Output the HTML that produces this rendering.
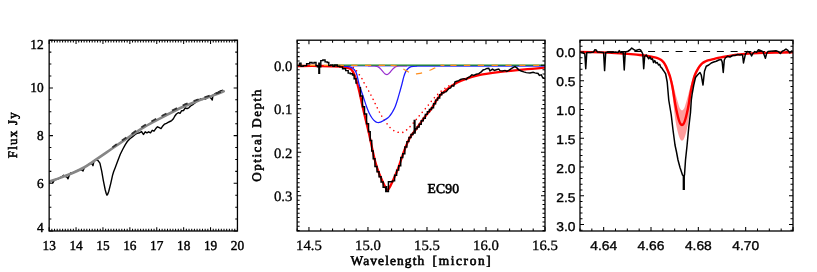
<!DOCTYPE html>
<html><head><meta charset="utf-8"><title>EC90 optical depth</title>
<style>
html,body{margin:0;padding:0;background:#fff;}
svg{display:block;will-change:transform;}
text{font-family:"Liberation Serif",serif;fill:#000;text-rendering:geometricPrecision;}
text.sn{font-family:"Liberation Sans",sans-serif;}
</style></head>
<body>
<svg width="817" height="272" viewBox="0 0 817 272">
<defs>
<clipPath id="c1"><rect x="49.15" y="40.2" width="188.3" height="190.8"/></clipPath>
<clipPath id="c2"><rect x="297.15" y="40.2" width="247.85" height="190.8"/></clipPath>
<clipPath id="c3"><rect x="580" y="40.2" width="213" height="190.8"/></clipPath>
</defs>
<rect width="817" height="272" fill="#fff"/>
<g clip-path="url(#c1)">
<path d="M49.5 181.83 L52 181.02 L53 182.81 L54.5 179.8 L57 179.3 L60 177.84 L62.5 176.27 L63.5 175.28 L65 176.43 L67 177.07 L68 178.78 L69.5 174.76 L71 172.73 L73 172.87 L76 171.32 L79 169.77 L82 170.08 L83 171 L84.5 167.48 L87 165.54 L90 163.48 L92 163.87 L93 165.7 L94 160.74 L96 160 L98.1 160.6 L99.9 163.2 L101.7 171.2 L103.4 180.9 L105.2 189.75 L106.3 193.8 L107 195.2 L107.8 194 L108.7 191.5 L110.7 183.6 L112.7 174.7 L113.7 171.5 L115.1 167.9 L117.6 161.3 L120.3 154.3 L122.9 149 L125.3 144.6 L127.3 141.5 L129.9 138.7 L132.6 136.6 L135.2 134.5 L137 133.4 L139.7 132.7 L141.6 131.6 L143.4 134.5 L145.2 131.8 L146.9 132.9 L148.7 131.8 L150.5 132.8 L152.2 130.3 L154 131.2 L155.8 128.6 L157.5 126.8 L159.3 127.7 L161 128.6 L162.8 125.9 L164.6 124.1 L166.4 123.3 L168.1 122.4 L169.9 121.5 L171.7 120.6 L173.4 118.8 L174.7 116.2 L176.4 114 L178.2 112.7 L180 113.4 L181.7 110.7 L183.5 110.5 L185.3 107.8 L187 108.7 L188.8 107.8 L190.6 106 L193.2 104.3 L195.9 102.1 L196.7 99.9 L198.5 100.7 L200.3 99 L202 99.5 L203.8 98.6 L205.6 99 L207.3 97.6 L209.1 96.8 L210.9 98.1 L212.3 100 L213 95 L215.3 93.7 L217.9 92.3 L220.6 91 L223.2 90.3" stroke="#000" stroke-width="1.4" fill="none" stroke-linejoin="round"/>
<path d="M49.3 181.6 C51.08 180.98 56.22 179.28 60 177.9 C63.78 176.52 68 175.03 72 173.3 C76 171.57 80.67 169.33 84 167.5 C87.33 165.67 89.33 164.07 92 162.3 C94.67 160.53 97 158.95 100 156.9 C103 154.85 106.67 152.3 110 150 C113.33 147.7 116.5 145.48 120 143.1 C123.5 140.72 127.33 138.15 131 135.7 C134.67 133.25 138.17 130.75 142 128.4 C145.83 126.05 150 123.78 154 121.6 C158 119.42 161.33 117.68 166 115.3 C170.67 112.92 176.67 109.72 182 107.3 C187.33 104.88 194 102.37 198 100.8 C202 99.23 203.2 98.88 206 97.9 C208.8 96.92 211.85 96 214.8 94.9 C217.75 93.8 222.22 91.9 223.7 91.3" stroke="#868686" stroke-width="2.6" fill="none" stroke-linecap="round"/>
<path d="M110 149.07 C111.67 147.88 116.5 144.37 120 141.91 C123.5 139.45 127.33 136.82 131 134.31 C134.67 131.81 138.17 129.27 142 126.89 C145.83 124.5 150 122.21 154 120.01 C158 117.82 161.33 116.07 166 113.7 C170.67 111.33 176.67 108.16 182 105.79 C187.33 103.42 194 101 198 99.49 C202 97.99 203.2 97.67 206 96.75 C208.8 95.84 211.85 94.97 214.8 94 C217.75 93.03 222.22 91.44 223.7 90.93" stroke="#333" stroke-width="1.8" fill="none" stroke-dasharray="5.4 6.3" stroke-dashoffset="-3"/>
</g>
<path d="M49.15 231 v-2.2 M49.15 40.2 v2.2 M51.84 231 v-2.2 M51.84 40.2 v2.2 M54.53 231 v-2.2 M54.53 40.2 v2.2 M57.22 231 v-2.2 M57.22 40.2 v2.2 M59.91 231 v-2.2 M59.91 40.2 v2.2 M62.6 231 v-2.2 M62.6 40.2 v2.2 M65.29 231 v-2.2 M65.29 40.2 v2.2 M67.98 231 v-2.2 M67.98 40.2 v2.2 M70.67 231 v-2.2 M70.67 40.2 v2.2 M73.36 231 v-2.2 M73.36 40.2 v2.2 M76.05 231 v-2.2 M76.05 40.2 v2.2 M78.74 231 v-2.2 M78.74 40.2 v2.2 M81.43 231 v-2.2 M81.43 40.2 v2.2 M84.12 231 v-2.2 M84.12 40.2 v2.2 M86.81 231 v-2.2 M86.81 40.2 v2.2 M89.5 231 v-2.2 M89.5 40.2 v2.2 M92.19 231 v-2.2 M92.19 40.2 v2.2 M94.88 231 v-2.2 M94.88 40.2 v2.2 M97.57 231 v-2.2 M97.57 40.2 v2.2 M100.26 231 v-2.2 M100.26 40.2 v2.2 M102.95 231 v-2.2 M102.95 40.2 v2.2 M105.64 231 v-2.2 M105.64 40.2 v2.2 M108.33 231 v-2.2 M108.33 40.2 v2.2 M111.02 231 v-2.2 M111.02 40.2 v2.2 M113.71 231 v-2.2 M113.71 40.2 v2.2 M116.4 231 v-2.2 M116.4 40.2 v2.2 M119.09 231 v-2.2 M119.09 40.2 v2.2 M121.78 231 v-2.2 M121.78 40.2 v2.2 M124.47 231 v-2.2 M124.47 40.2 v2.2 M127.16 231 v-2.2 M127.16 40.2 v2.2 M129.85 231 v-2.2 M129.85 40.2 v2.2 M132.54 231 v-2.2 M132.54 40.2 v2.2 M135.23 231 v-2.2 M135.23 40.2 v2.2 M137.92 231 v-2.2 M137.92 40.2 v2.2 M140.61 231 v-2.2 M140.61 40.2 v2.2 M143.3 231 v-2.2 M143.3 40.2 v2.2 M145.99 231 v-2.2 M145.99 40.2 v2.2 M148.68 231 v-2.2 M148.68 40.2 v2.2 M151.37 231 v-2.2 M151.37 40.2 v2.2 M154.06 231 v-2.2 M154.06 40.2 v2.2 M156.75 231 v-2.2 M156.75 40.2 v2.2 M159.44 231 v-2.2 M159.44 40.2 v2.2 M162.13 231 v-2.2 M162.13 40.2 v2.2 M164.82 231 v-2.2 M164.82 40.2 v2.2 M167.51 231 v-2.2 M167.51 40.2 v2.2 M170.2 231 v-2.2 M170.2 40.2 v2.2 M172.89 231 v-2.2 M172.89 40.2 v2.2 M175.58 231 v-2.2 M175.58 40.2 v2.2 M178.27 231 v-2.2 M178.27 40.2 v2.2 M180.96 231 v-2.2 M180.96 40.2 v2.2 M183.65 231 v-2.2 M183.65 40.2 v2.2 M186.34 231 v-2.2 M186.34 40.2 v2.2 M189.03 231 v-2.2 M189.03 40.2 v2.2 M191.72 231 v-2.2 M191.72 40.2 v2.2 M194.41 231 v-2.2 M194.41 40.2 v2.2 M197.1 231 v-2.2 M197.1 40.2 v2.2 M199.79 231 v-2.2 M199.79 40.2 v2.2 M202.48 231 v-2.2 M202.48 40.2 v2.2 M205.17 231 v-2.2 M205.17 40.2 v2.2 M207.86 231 v-2.2 M207.86 40.2 v2.2 M210.55 231 v-2.2 M210.55 40.2 v2.2 M213.24 231 v-2.2 M213.24 40.2 v2.2 M215.93 231 v-2.2 M215.93 40.2 v2.2 M218.62 231 v-2.2 M218.62 40.2 v2.2 M221.31 231 v-2.2 M221.31 40.2 v2.2 M224 231 v-2.2 M224 40.2 v2.2 M226.69 231 v-2.2 M226.69 40.2 v2.2 M229.38 231 v-2.2 M229.38 40.2 v2.2 M232.07 231 v-2.2 M232.07 40.2 v2.2 M234.76 231 v-2.2 M234.76 40.2 v2.2 M237.45 231 v-2.2 M237.45 40.2 v2.2 M49.15 231 v-3.8 M49.15 40.2 v3.8 M76.05 231 v-3.8 M76.05 40.2 v3.8 M102.95 231 v-3.8 M102.95 40.2 v3.8 M129.85 231 v-3.8 M129.85 40.2 v3.8 M156.75 231 v-3.8 M156.75 40.2 v3.8 M183.65 231 v-3.8 M183.65 40.2 v3.8 M210.55 231 v-3.8 M210.55 40.2 v3.8 M237.45 231 v-3.8 M237.45 40.2 v3.8 M49.15 231 h2.2 M237.45 231 h-2.2 M49.15 219.07 h2.2 M237.45 219.07 h-2.2 M49.15 207.15 h2.2 M237.45 207.15 h-2.2 M49.15 195.23 h2.2 M237.45 195.23 h-2.2 M49.15 183.3 h2.2 M237.45 183.3 h-2.2 M49.15 171.38 h2.2 M237.45 171.38 h-2.2 M49.15 159.45 h2.2 M237.45 159.45 h-2.2 M49.15 147.53 h2.2 M237.45 147.53 h-2.2 M49.15 135.6 h2.2 M237.45 135.6 h-2.2 M49.15 123.68 h2.2 M237.45 123.68 h-2.2 M49.15 111.75 h2.2 M237.45 111.75 h-2.2 M49.15 99.83 h2.2 M237.45 99.83 h-2.2 M49.15 87.9 h2.2 M237.45 87.9 h-2.2 M49.15 75.98 h2.2 M237.45 75.98 h-2.2 M49.15 64.05 h2.2 M237.45 64.05 h-2.2 M49.15 52.12 h2.2 M237.45 52.12 h-2.2 M49.15 40.2 h2.2 M237.45 40.2 h-2.2 M49.15 231 h3.8 M237.45 231 h-3.8 M49.15 183.3 h3.8 M237.45 183.3 h-3.8 M49.15 135.6 h3.8 M237.45 135.6 h-3.8 M49.15 87.9 h3.8 M237.45 87.9 h-3.8 M49.15 40.2 h3.8 M237.45 40.2 h-3.8" stroke="#000" stroke-width="1.05" fill="none"/>
<rect x="49.15" y="40.2" width="188.3" height="190.8" fill="none" stroke="#000" stroke-width="1.3"/>
<text transform="translate(49.15 249.6) scale(0.98 1)" text-anchor="middle" font-size="13.6" font-weight="normal" stroke="#000" stroke-width="0.42">13</text>
<text transform="translate(76.05 249.6) scale(0.98 1)" text-anchor="middle" font-size="13.6" font-weight="normal" stroke="#000" stroke-width="0.42">14</text>
<text transform="translate(102.95 249.6) scale(0.98 1)" text-anchor="middle" font-size="13.6" font-weight="normal" stroke="#000" stroke-width="0.42">15</text>
<text transform="translate(129.85 249.6) scale(0.98 1)" text-anchor="middle" font-size="13.6" font-weight="normal" stroke="#000" stroke-width="0.42">16</text>
<text transform="translate(156.75 249.6) scale(0.98 1)" text-anchor="middle" font-size="13.6" font-weight="normal" stroke="#000" stroke-width="0.42">17</text>
<text transform="translate(183.65 249.6) scale(0.98 1)" text-anchor="middle" font-size="13.6" font-weight="normal" stroke="#000" stroke-width="0.42">18</text>
<text transform="translate(210.55 249.6) scale(0.98 1)" text-anchor="middle" font-size="13.6" font-weight="normal" stroke="#000" stroke-width="0.42">19</text>
<text transform="translate(237.45 249.6) scale(0.98 1)" text-anchor="middle" font-size="13.6" font-weight="normal" stroke="#000" stroke-width="0.42">20</text>
<text transform="translate(43.65 48.5) scale(0.98 1)" text-anchor="end" font-size="13.6" font-weight="normal" stroke="#000" stroke-width="0.42">12</text>
<text transform="translate(43.65 92.4) scale(0.98 1)" text-anchor="end" font-size="13.6" font-weight="normal" stroke="#000" stroke-width="0.42">10</text>
<text transform="translate(43.65 140.1) scale(0.98 1)" text-anchor="end" font-size="13.6" font-weight="normal" stroke="#000" stroke-width="0.42">8</text>
<text transform="translate(43.65 187.8) scale(0.98 1)" text-anchor="end" font-size="13.6" font-weight="normal" stroke="#000" stroke-width="0.42">6</text>
<text transform="translate(43.65 231.5) scale(0.98 1)" text-anchor="end" font-size="13.6" font-weight="normal" stroke="#000" stroke-width="0.42">4</text>
<text transform="translate(17.3 134.6) rotate(-90) scale(1 1)" text-anchor="middle" font-size="13" font-weight="normal" stroke="#000" stroke-width="0.6" letter-spacing="1.25">Flux Jy</text>
<g clip-path="url(#c2)">
<path d="M344 65.9 H545" stroke="#1a1aff" stroke-width="0.9" fill="none"/>
<path d="M344 66 C345 66.1 348.33 66.27 350 66.6 C351.67 66.93 352.83 67.18 354 68 C355.17 68.82 355.93 70.12 357 71.5 C358.07 72.88 359.42 74.77 360.4 76.25 C361.38 77.73 362.13 79.01 362.9 80.4 C363.67 81.79 364.23 83.21 365 84.6 C365.77 85.99 366.73 87.39 367.5 88.75 C368.27 90.11 368.87 91.39 369.6 92.75 C370.33 94.11 371.17 95.51 371.9 96.9 C372.63 98.29 373.3 99.67 374 101.1 C374.7 102.53 375.37 104.03 376.1 105.5 C376.83 106.97 377.67 108.48 378.4 109.9 C379.13 111.32 379.77 112.68 380.5 114 C381.23 115.32 382 116.63 382.75 117.8 C383.5 118.97 383.79 119.38 385 121 C386.21 122.62 388.33 125.79 390 127.5 C391.67 129.21 393.33 130.42 395 131.25 C396.67 132.08 398.47 132.39 400 132.5 C401.53 132.61 402.9 132.53 404.2 131.9 C405.5 131.27 406.62 129.8 407.8 128.7 C408.98 127.6 410.17 126.5 411.3 125.3 C412.43 124.1 413.52 122.78 414.6 121.5 C415.68 120.22 416.78 118.83 417.8 117.6 C418.82 116.37 419.63 115.37 420.7 114.1 C421.77 112.83 422.98 111.43 424.2 110 C425.42 108.57 426.7 107.08 428 105.5 C429.3 103.92 430.67 102.08 432 100.5 C433.33 98.92 434.67 97.38 436 96 C437.33 94.62 438.67 93.37 440 92.2 C441.33 91.03 442.67 89.98 444 89 C445.33 88.02 446.67 87.1 448 86.3 C449.33 85.5 451.33 84.55 452 84.2" stroke="#f00" stroke-width="1.6" fill="none" stroke-linecap="round" stroke-dasharray="0.01 4.7"/>
<path d="M297.5 66 C301.25 66 312.92 65.92 320 66 C327.08 66.08 335.67 66.25 340 66.5 C344.33 66.75 344.17 67.05 346 67.5 C347.83 67.95 349.58 67.95 351 69.2 C352.42 70.45 353.5 72.78 354.5 75 C355.5 77.22 356.17 79.58 357 82.5 C357.83 85.42 358.63 88.75 359.5 92.5 C360.37 96.25 361.28 100.92 362.2 105 C363.12 109.08 363.91 112.42 365 117 C366.09 121.58 367.53 127.17 368.75 132.5 C369.97 137.83 371.23 144.17 372.3 149 C373.38 153.83 374.12 157.58 375.2 161.5 C376.27 165.42 377.53 169.21 378.75 172.5 C379.97 175.79 381.32 178.67 382.5 181.25 C383.68 183.83 384.95 186.54 385.8 188 C386.65 189.46 386.97 190.08 387.6 190 C388.23 189.92 388.58 189.38 389.6 187.5 C390.62 185.62 392.43 181.67 393.75 178.75 C395.07 175.83 396.32 173.04 397.5 170 C398.68 166.96 399.67 163.75 400.8 160.5 C401.93 157.25 403.07 153.75 404.3 150.5 C405.53 147.25 406.98 143.58 408.2 141 C409.42 138.42 410.2 137.08 411.6 135 C413 132.92 414.47 131.42 416.6 128.5 C418.73 125.58 421.92 120.83 424.4 117.5 C426.88 114.17 429.57 111.25 431.5 108.5 C433.43 105.75 434.5 103.28 436 101 C437.5 98.72 439.17 96.33 440.5 94.8 C441.83 93.27 442.62 92.95 444 91.8 C445.38 90.65 446.92 89.23 448.75 87.9 C450.58 86.57 452.92 85 455 83.8 C457.08 82.6 459.17 81.62 461.25 80.7 C463.33 79.78 465.42 79.02 467.5 78.3 C469.58 77.58 471.67 76.97 473.75 76.4 C475.83 75.83 477.92 75.33 480 74.9 C482.08 74.47 484.17 74.13 486.25 73.8 C488.33 73.47 489.79 73.25 492.5 72.9 C495.21 72.55 498.75 72.12 502.5 71.7 C506.25 71.28 510.83 70.82 515 70.4 C519.17 69.98 523.33 69.58 527.5 69.2 C531.67 68.82 537.08 68.37 540 68.1 C542.92 67.83 544.17 67.68 545 67.6" stroke="#f00" stroke-width="2.3" fill="none" stroke-linejoin="round"/>
<path d="M344 66.3 C344.5 66.33 345.83 66.33 347 66.5 C348.17 66.67 349.83 66.83 351 67.3 C352.17 67.77 353.08 68.27 354 69.3 C354.92 70.33 355.67 71.05 356.5 73.5 C357.33 75.95 358.17 81 359 84 C359.83 87 360.67 89 361.5 91.5 C362.33 94 363.17 96.5 364 99 C364.83 101.5 365.67 104.21 366.5 106.5 C367.33 108.79 368.08 110.83 369 112.75 C369.92 114.67 371 116.58 372 118 C373 119.42 374.08 120.55 375 121.3 C375.92 122.05 376.58 122.35 377.5 122.5 C378.42 122.65 379.46 122.53 380.5 122.2 C381.54 121.87 382.5 121.24 383.75 120.5 C385 119.76 386.92 118.62 388 117.75 C389.08 116.88 389.46 116.29 390.25 115.25 C391.04 114.21 391.92 112.96 392.75 111.5 C393.58 110.04 394.42 108.58 395.25 106.5 C396.08 104.42 396.92 101.71 397.75 99 C398.58 96.29 399.52 92.83 400.25 90.25 C400.98 87.67 401.52 85.72 402.1 83.5 C402.68 81.28 403.17 78.83 403.75 76.9 C404.33 74.97 404.88 73.3 405.6 71.9 C406.33 70.5 407.16 69.37 408.1 68.5 C409.04 67.63 409.89 67.1 411.25 66.7 C412.61 66.3 413.12 66.23 416.25 66.1 C419.38 65.97 408.54 65.93 430 65.9 C451.46 65.87 525.83 65.9 545 65.9" stroke="#1a1aff" stroke-width="1.25" fill="none"/>
<path d="M368 65.8 L368.65 65.8 L369.3 65.8 L369.95 65.8 L370.6 65.81 L371.25 65.81 L371.9 65.82 L372.55 65.84 L373.2 65.86 L373.85 65.9 L374.5 65.95 L375.15 66.03 L375.8 66.14 L376.45 66.29 L377.1 66.5 L377.75 66.77 L378.4 67.12 L379.05 67.55 L379.7 68.07 L380.35 68.67 L381 69.36 L381.65 70.11 L382.3 70.89 L382.95 71.69 L383.6 72.45 L384.25 73.15 L384.9 73.73 L385.55 74.17 L386.2 74.43 L386.85 74.5 L387.5 74.37 L388.15 74.05 L388.8 73.57 L389.45 72.94 L390.1 72.22 L390.75 71.44 L391.4 70.65 L392.05 69.87 L392.7 69.14 L393.35 68.48 L394 67.9 L394.65 67.41 L395.3 67.01 L395.95 66.68 L396.6 66.43 L397.25 66.24 L397.9 66.1 L398.55 66 L399.2 65.93 L399.85 65.88 L400.5 65.85 L401.15 65.83 L401.8 65.82 L402.45 65.81 L403.1 65.81 L403.75 65.8 L404.4 65.8 L405.05 65.8 L405.7 65.8 L406.35 65.8 L407 65.8" stroke="#9a30d0" stroke-width="1.25" fill="none"/>
<path d="M332 65.2 H545" stroke="#1e8c1e" stroke-width="1.2" fill="none"/>
<path d="M297.15 65.4 H385" stroke="#ff8c1a" stroke-width="1.25" fill="none" stroke-dasharray="6.2 7.55" stroke-dashoffset="0.9"/>
<path d="M385 65.4 C386.17 65.4 389.71 65.23 392 65.4 C394.29 65.57 397.08 65.97 398.75 66.4 C400.42 66.83 400.96 67.4 402 68 C403.04 68.6 403.57 69.17 405 70 C406.43 70.83 409.1 72.37 410.6 73 C412.1 73.63 412.77 73.7 414 73.8 C415.23 73.9 416.27 73.86 418 73.6 C419.73 73.34 422.19 72.89 424.4 72.25 C426.61 71.61 429.17 70.64 431.25 69.75 C433.33 68.86 435.44 67.54 436.9 66.9 C438.36 66.26 438.86 66.13 440 65.9 C441.14 65.67 442.08 65.58 443.75 65.5 C445.42 65.42 433.12 65.42 450 65.4 C466.88 65.38 529.17 65.4 545 65.4" stroke="#ff8c1a" stroke-width="1.25" fill="none" stroke-dasharray="6.2 7.55" stroke-dashoffset="8.2"/>
<path d="M297.5 65.6 L298 65.6 L298 65.6 L299.45 65.6 L299.45 63.1 L301 63.1 L301 66.25 L303.18 66.25 L303.18 65.6 L306.62 65.6 L306.62 63.75 L309.75 63.75 L309.75 62.5 L311.95 62.5 L311.95 63.1 L314.15 63.1 L314.15 62.5 L316 62.5 L316 65.6 L317.5 65.6 L317.5 66.9 L318.4 66.9 L320 66.9 L320.8 66.9 L320.8 60.6 L322.85 60.6 L322.85 60 L325.05 60 L325.05 61.9 L327.25 61.9 L327.25 62.5 L328.8 62.5 L328.8 65.6 L330.68 65.6 L330.68 65 L332.88 65 L332.88 66.25 L334.75 66.25 L334.75 65 L337.25 65 L337.25 66.25 L339.75 66.25 L339.75 66.9 L342.55 66.9 L342.55 68.75 L345.68 68.75 L345.68 70.6 L348.18 70.6 L348.18 73.1 L350.35 73.1 L350.35 73.75 L352.55 73.75 L352.55 75 L354.12 75 L354.12 78.75 L356 78.75 L356 83.1 L357.25 83.1" stroke="#000" stroke-width="1.4" fill="none" stroke-linejoin="miter"/>
<path d="M359.4 87.68 L360.42 87.68 L360.42 96.06 L362.48 96.06 L362.48 106.65 L364.52 106.65 L364.52 114.05 L366.58 114.05 L366.58 123.7 L368.54 123.7 L368.54 131.76 L370.22 131.76 L370.22 140.5 L371.71 140.5 L371.71 150.96 L373.21 150.96 L373.21 158.67 L374.95 158.67 L374.95 166.45 L376.98 166.45 L376.98 171.82 L379.03 171.82 L379.03 176.65 L381.08 176.65 L381.08 182.09 L383.13 182.09 L383.13 187.25 L385.78 187.25 L385.78 191.6 L388.43 191.6 L388.43 181.8 L390.48 181.8 L390.48 181.8 L392.53 181.8 L392.53 180.88 L394.58 180.88 L394.58 175.32 L396.63 175.32 L396.63 170.1 L398.68 170.1 L398.68 165.67 L400.73 165.67 L400.73 157.55 L402.78 157.55 L402.78 153.65 L404.83 153.65 L404.83 146.95 L406.88 146.95 L406.88 141.61 L408.93 141.61 L408.93 137.52 L410.98 137.52 L410.98 134.41 L413.03 134.41 L413.03 132.96 L415.08 132.96 L415.08 128.77 L417.13 128.77 L417.13 126.93 L419.18 126.93 L419.18 124.18 L421.23 124.18 L421.23 120.65 L423.28 120.65 L423.28 118.18 L425.33 118.18 L425.33 114.36 L427.38 114.36 L427.38 111.75 L429.43 111.75 L429.43 109.51 L431.48 109.51 L431.48 107.77 L433.53 107.77 L433.53 103.74 L435.58 103.74 L435.58 100.14 L437.63 100.14 L437.63 97.97 L439.68 97.97 L439.68 94.83 L441.73 94.83 L441.73 92.65 L443.78 92.65 L443.78 92.1 L444.8 92.1 L446.25 91.61 L448.75 88.57 L450.6 88.01 L451.9 85.54 L453.75 86.18 L455 81.81 L456.9 81.26 L458.75 80.7 L460.6 79.45 L462.5 78.89 L464.4 78.69 L466.25 79.58 L467.5 77.76 L470 76.57 L471.9 74.72 L473.75 75.41 L476.25 74.22 L478.75 73.68 L481.25 71.84 L483.1 69.98 L485 69.43 L486.9 68.47 L488.75 68.27 L490 70.95 L492.5 69.15 L494.4 70.4 L496.25 69.8 L498.75 69.15 L500 70.65 L502.5 71 L505 70.4 L506.9 71.4 L508.75 70.4 L510.6 69.15 L512.5 67.9 L515 66.65 L516.9 67.9 L518.75 69.8 L521.25 71 L523.75 71.9 L526.25 72.65 L530 72.9 L533.1 72.3 L535 72.9 L538.1 73.5 L539.4 75.4 L541.25 74.8 L542.5 77.3 L544.4 78.5" stroke="#000" stroke-width="1.45" fill="none"/>
<path d="M319.2 62.5 V74" stroke="#000" stroke-width="2.1"/>
<path d="M414.6 119.8 V132.5" stroke="#000" stroke-width="2.1"/>
<path d="M386.6 186 V192" stroke="#000" stroke-width="1.6"/>
</g>
<path d="M297.15 231 v-2.5 M297.15 40.2 v2.5 M308.95 231 v-2.5 M308.95 40.2 v2.5 M320.75 231 v-2.5 M320.75 40.2 v2.5 M332.56 231 v-2.5 M332.56 40.2 v2.5 M344.36 231 v-2.5 M344.36 40.2 v2.5 M356.16 231 v-2.5 M356.16 40.2 v2.5 M367.96 231 v-2.5 M367.96 40.2 v2.5 M379.77 231 v-2.5 M379.77 40.2 v2.5 M391.57 231 v-2.5 M391.57 40.2 v2.5 M403.37 231 v-2.5 M403.37 40.2 v2.5 M415.17 231 v-2.5 M415.17 40.2 v2.5 M426.98 231 v-2.5 M426.98 40.2 v2.5 M438.78 231 v-2.5 M438.78 40.2 v2.5 M450.58 231 v-2.5 M450.58 40.2 v2.5 M462.38 231 v-2.5 M462.38 40.2 v2.5 M474.19 231 v-2.5 M474.19 40.2 v2.5 M485.99 231 v-2.5 M485.99 40.2 v2.5 M497.79 231 v-2.5 M497.79 40.2 v2.5 M509.59 231 v-2.5 M509.59 40.2 v2.5 M521.4 231 v-2.5 M521.4 40.2 v2.5 M533.2 231 v-2.5 M533.2 40.2 v2.5 M545 231 v-2.5 M545 40.2 v2.5 M308.95 231 v-4 M308.95 40.2 v4 M367.96 231 v-4 M367.96 40.2 v4 M426.98 231 v-4 M426.98 40.2 v4 M485.99 231 v-4 M485.99 40.2 v4 M545 231 v-4 M545 40.2 v4 M297.15 43.55 h2.5 M545 43.55 h-2.5 M297.15 47.9 h2.5 M545 47.9 h-2.5 M297.15 52.25 h2.5 M545 52.25 h-2.5 M297.15 56.6 h2.5 M545 56.6 h-2.5 M297.15 60.95 h2.5 M545 60.95 h-2.5 M297.15 65.3 h2.5 M545 65.3 h-2.5 M297.15 69.65 h2.5 M545 69.65 h-2.5 M297.15 74 h2.5 M545 74 h-2.5 M297.15 78.35 h2.5 M545 78.35 h-2.5 M297.15 82.7 h2.5 M545 82.7 h-2.5 M297.15 87.05 h2.5 M545 87.05 h-2.5 M297.15 91.4 h2.5 M545 91.4 h-2.5 M297.15 95.75 h2.5 M545 95.75 h-2.5 M297.15 100.1 h2.5 M545 100.1 h-2.5 M297.15 104.45 h2.5 M545 104.45 h-2.5 M297.15 108.8 h2.5 M545 108.8 h-2.5 M297.15 113.15 h2.5 M545 113.15 h-2.5 M297.15 117.5 h2.5 M545 117.5 h-2.5 M297.15 121.85 h2.5 M545 121.85 h-2.5 M297.15 126.2 h2.5 M545 126.2 h-2.5 M297.15 130.55 h2.5 M545 130.55 h-2.5 M297.15 134.9 h2.5 M545 134.9 h-2.5 M297.15 139.25 h2.5 M545 139.25 h-2.5 M297.15 143.6 h2.5 M545 143.6 h-2.5 M297.15 147.95 h2.5 M545 147.95 h-2.5 M297.15 152.3 h2.5 M545 152.3 h-2.5 M297.15 156.65 h2.5 M545 156.65 h-2.5 M297.15 161 h2.5 M545 161 h-2.5 M297.15 165.35 h2.5 M545 165.35 h-2.5 M297.15 169.7 h2.5 M545 169.7 h-2.5 M297.15 174.05 h2.5 M545 174.05 h-2.5 M297.15 178.4 h2.5 M545 178.4 h-2.5 M297.15 182.75 h2.5 M545 182.75 h-2.5 M297.15 187.1 h2.5 M545 187.1 h-2.5 M297.15 191.45 h2.5 M545 191.45 h-2.5 M297.15 195.8 h2.5 M545 195.8 h-2.5 M297.15 200.15 h2.5 M545 200.15 h-2.5 M297.15 204.5 h2.5 M545 204.5 h-2.5 M297.15 208.85 h2.5 M545 208.85 h-2.5 M297.15 213.2 h2.5 M545 213.2 h-2.5 M297.15 217.55 h2.5 M545 217.55 h-2.5 M297.15 221.9 h2.5 M545 221.9 h-2.5 M297.15 226.25 h2.5 M545 226.25 h-2.5 M297.15 230.6 h2.5 M545 230.6 h-2.5 M297.15 65.3 h4 M545 65.3 h-4 M297.15 108.8 h4 M545 108.8 h-4 M297.15 152.3 h4 M545 152.3 h-4 M297.15 195.8 h4 M545 195.8 h-4" stroke="#000" stroke-width="1.05" fill="none"/>
<rect x="297.15" y="40.2" width="247.85" height="190.8" fill="none" stroke="#000" stroke-width="1.3"/>
<text transform="translate(308.95 249.6) scale(1.03 1)" text-anchor="middle" font-size="14.3" font-weight="normal" stroke="#000" stroke-width="0.3">14.5</text>
<text transform="translate(367.96 249.6) scale(1.03 1)" text-anchor="middle" font-size="14.3" font-weight="normal" stroke="#000" stroke-width="0.3">15.0</text>
<text transform="translate(426.98 249.6) scale(1.03 1)" text-anchor="middle" font-size="14.3" font-weight="normal" stroke="#000" stroke-width="0.3">15.5</text>
<text transform="translate(485.99 249.6) scale(1.03 1)" text-anchor="middle" font-size="14.3" font-weight="normal" stroke="#000" stroke-width="0.3">16.0</text>
<text transform="translate(545 249.6) scale(1.03 1)" text-anchor="middle" font-size="14.3" font-weight="normal" stroke="#000" stroke-width="0.3">16.5</text>
<text transform="translate(292.35 70.9) scale(1.03 1)" text-anchor="end" font-size="14.3" font-weight="normal" stroke="#000" stroke-width="0.3">0.0</text>
<text transform="translate(292.35 114.4) scale(1.03 1)" text-anchor="end" font-size="14.3" font-weight="normal" stroke="#000" stroke-width="0.3">0.1</text>
<text transform="translate(292.35 157.9) scale(1.03 1)" text-anchor="end" font-size="14.3" font-weight="normal" stroke="#000" stroke-width="0.3">0.2</text>
<text transform="translate(292.35 201.4) scale(1.03 1)" text-anchor="end" font-size="14.3" font-weight="normal" stroke="#000" stroke-width="0.3">0.3</text>
<text transform="translate(350.6 264.6) scale(1 1)" text-anchor="start" font-size="13.4" font-weight="normal" stroke="#000" stroke-width="0.6" textLength="73.6" lengthAdjust="spacing">Wavelength</text>
<text transform="translate(432.6 264.6) scale(1 1)" text-anchor="start" font-size="13.4" font-weight="normal" stroke="#000" stroke-width="0.6" textLength="58.2" lengthAdjust="spacing">[micron]</text>
<text transform="translate(261.2 135) rotate(-90) scale(1 1)" text-anchor="middle" font-size="13" font-weight="normal" stroke="#000" stroke-width="0.6" letter-spacing="1.55">Optical Depth</text>
<text transform="translate(443.3 193.4) scale(1 1)" text-anchor="middle" font-size="13.6" font-weight="normal" stroke="#000" stroke-width="0.6" letter-spacing="0.2">EC90</text>
<g clip-path="url(#c3)">
<path d="M580 51.5 H793" stroke="#000" stroke-width="1.1" stroke-dasharray="7 6.75" stroke-dashoffset="0.65"/>
<path d="M663.75 63.74 C664.06 64.32 664.98 65.81 665.6 67.21 C666.23 68.61 666.93 70.61 667.5 72.13 C668.07 73.65 668.52 74.83 669 76.32 C669.48 77.81 669.89 78.63 670.4 81.07 C670.91 83.52 671.53 87.04 672.06 90.99 C672.58 94.94 673.1 100.58 673.56 104.79 C674.03 108.99 674.35 112.61 674.84 116.23 C675.33 119.84 675.93 123.52 676.51 126.48 C677.09 129.44 677.71 131.93 678.3 134.01 C678.9 136.1 679.48 137.88 680.1 138.99 C680.71 140.11 681.37 140.69 682 140.69 C682.63 140.69 683.29 140.11 683.9 138.99 C684.52 137.88 685.1 136.1 685.7 134.01 C686.29 131.93 686.91 129.44 687.49 126.48 C688.07 123.52 688.66 120.06 689.16 116.23 C689.67 112.39 690.02 107.73 690.51 103.47 C691.01 99.22 691.56 94.5 692.14 90.68 C692.72 86.85 693.31 83.23 694 80.52 C694.69 77.8 695.57 76.02 696.25 74.36 C696.93 72.71 697.48 71.72 698.1 70.56 C698.73 69.41 699.27 68.44 700 67.43 C700.73 66.43 702.08 65.01 702.5 64.52 L702.5 61.97 C702.08 62.35 700.73 63.48 700 64.28 C699.27 65.08 698.73 65.85 698.1 66.77 C697.48 67.69 696.93 68.48 696.25 69.8 C695.57 71.12 694.75 72.72 694 74.69 C693.25 76.67 692.47 79.26 691.74 81.65 C691.02 84.04 690.27 86.74 689.66 89.05 C689.04 91.36 688.58 93.52 688.06 95.52 C687.53 97.52 687.01 99.29 686.51 101.04 C686 102.79 685.53 104.63 685.04 106 C684.55 107.37 684.07 108.55 683.56 109.28 C683.06 110.01 682.52 110.4 682 110.4 C681.48 110.4 680.94 110.01 680.44 109.28 C679.93 108.55 679.45 107.37 678.96 106 C678.47 104.63 678 102.79 677.49 101.04 C676.99 99.29 676.45 97.4 675.94 95.52 C675.44 93.64 675.04 92.04 674.46 89.75 C673.88 87.47 673.14 84.28 672.46 81.84 C671.79 79.4 670.98 76.89 670.4 75.14 C669.82 73.39 669.48 72.54 669 71.36 C668.52 70.17 668.07 69.23 667.5 68.02 C666.93 66.81 666.23 65.22 665.6 64.1 C664.98 62.99 664.06 61.8 663.75 61.34 Z" fill="#ff9c9c" stroke="none"/>
<path d="M580 51.9 C583.33 51.98 594.08 52.2 600 52.4 C605.92 52.6 611.33 52.88 615.5 53.1 C619.67 53.32 621.92 53.48 625 53.7 C628.08 53.92 631.5 54.18 634 54.4 C636.5 54.62 637.96 54.78 640 55 C642.04 55.22 644.17 55.38 646.25 55.7 C648.33 56.02 650.62 56.5 652.5 56.9 C654.38 57.3 656.04 57.58 657.5 58.1 C658.96 58.62 660.21 59.27 661.25 60 C662.29 60.73 663.02 61.57 663.75 62.5 C664.48 63.43 664.98 64.35 665.6 65.6 C666.23 66.85 666.93 68.64 667.5 70 C668.07 71.36 668.52 72.42 669 73.75 C669.48 75.08 669.85 75.92 670.4 78 C670.95 80.08 671.68 83.08 672.3 86.25 C672.92 89.42 673.57 93.79 674.1 97 C674.63 100.21 675 102.78 675.5 105.5 C676 108.22 676.57 110.97 677.1 113.3 C677.63 115.63 678.17 117.78 678.7 119.5 C679.23 121.22 679.75 122.68 680.3 123.6 C680.85 124.52 681.43 125 682 125 C682.57 125 683.15 124.52 683.7 123.6 C684.25 122.68 684.77 121.22 685.3 119.5 C685.83 117.78 686.37 115.63 686.9 113.3 C687.43 110.97 687.98 108.38 688.5 105.5 C689.02 102.62 689.43 99.25 690 96 C690.57 92.75 691.23 89.08 691.9 86 C692.57 82.92 693.27 79.83 694 77.5 C694.73 75.17 695.57 73.48 696.25 72 C696.93 70.52 697.48 69.63 698.1 68.6 C698.73 67.57 699.27 66.7 700 65.8 C700.73 64.9 701.67 63.9 702.5 63.2 C703.33 62.5 704.08 62.07 705 61.6 C705.92 61.13 706.33 60.88 708 60.4 C709.67 59.92 712.83 59.2 715 58.7 C717.17 58.2 718.92 57.82 721 57.4 C723.08 56.98 725.17 56.62 727.5 56.2 C729.83 55.78 732.08 55.28 735 54.9 C737.92 54.52 741.17 54.2 745 53.9 C748.83 53.6 753 53.32 758 53.1 C763 52.88 769.17 52.73 775 52.6 C780.83 52.47 790 52.35 793 52.3" stroke="#f00" stroke-width="2.4" fill="none" stroke-linejoin="round"/>
<path d="M580.5 52.5 L583 53.1 L584.8 53.75 L585.75 68.75 L586.8 52.5 L590.5 52.5 L593.6 51.9 L594.9 49.75 L596.1 50 L597.4 51.9 L601.1 52.25 L603.6 52.5 L604.6 70.6 L605.7 52.5 L609.25 51.9 L611.75 52.5 L615.5 51.9 L618 52.5 L619.25 50.6 L620.5 52.5 L623.2 52.5 L624.25 70 L625.3 51.9 L628 51.25 L629.9 50 L631.75 48.1 L633.6 49.4 L635.5 50.6 L637.4 50 L639.25 49.4 L640.5 50 L641.75 51.9 L642.8 54 L643.7 68.75 L644.7 56.25 L646.25 55 L647.5 56.9 L648.75 58.75 L650 56.9 L651.25 59.4 L652.5 58.75 L653.5 62.5 L654.75 60.6 L656 63.1 L657.25 62.5 L658.5 65 L659.75 64.4 L660.6 66.9 L661.9 68.1 L663.1 70 L664.4 71.9 L665.6 73.75 L667.2 82 L668.75 100 L671.25 115 L673 130 L675 145 L676.5 152 L678 160 L680 167.5 L682.5 175 L683.7 176 L684.5 175 L685.5 160 L687 146 L688.75 127.5 L690.5 112.5 L691.3 100 L692.3 93 L693.75 85 L695.5 77.5 L697.5 75 L700 72.5 L701.25 75 L703 85 L704.5 71.25 L706.25 66.25 L708.75 65 L711.25 63 L713.75 62 L716.25 61.25 L718.75 60 L721.25 59.5 L722.2 62 L723.25 72.5 L724.3 60 L725.3 58 L727.5 56.25 L730 57 L732.5 55.5 L735 55.5 L737.5 54.5 L740 55 L741.4 54.6 L742.6 55.2 L743.5 62.9 L745.4 54.2 L747.2 51.6 L749.1 52 L750.4 53.5 L751.6 56 L752.9 53.5 L754.75 51.6 L756.6 52.25 L758.5 49.75 L761 50.75 L762.9 51.6 L764.1 54.75 L765.4 58.25 L766.6 53.5 L767.9 51.6 L770.4 51.25 L773.5 51 L776 50.75 L778.5 51.6 L780.4 53.5 L782.25 51.25 L784.1 50.4 L786 49.1 L787.9 50.4 L789.75 52.9 L791.6 51 L793 51.6" stroke="#000" stroke-width="1.5" fill="none" stroke-linejoin="round"/>
<path d="M683.8 175 V190" stroke="#000" stroke-width="2.3"/>
</g>
<path d="M580 231 v-2.5 M580 40.2 v2.5 M591.83 231 v-2.5 M591.83 40.2 v2.5 M603.67 231 v-2.5 M603.67 40.2 v2.5 M615.5 231 v-2.5 M615.5 40.2 v2.5 M627.33 231 v-2.5 M627.33 40.2 v2.5 M639.17 231 v-2.5 M639.17 40.2 v2.5 M651 231 v-2.5 M651 40.2 v2.5 M662.83 231 v-2.5 M662.83 40.2 v2.5 M674.67 231 v-2.5 M674.67 40.2 v2.5 M686.5 231 v-2.5 M686.5 40.2 v2.5 M698.33 231 v-2.5 M698.33 40.2 v2.5 M710.17 231 v-2.5 M710.17 40.2 v2.5 M722 231 v-2.5 M722 40.2 v2.5 M733.83 231 v-2.5 M733.83 40.2 v2.5 M745.67 231 v-2.5 M745.67 40.2 v2.5 M757.5 231 v-2.5 M757.5 40.2 v2.5 M769.33 231 v-2.5 M769.33 40.2 v2.5 M781.17 231 v-2.5 M781.17 40.2 v2.5 M793 231 v-2.5 M793 40.2 v2.5 M603.67 231 v-4 M603.67 40.2 v4 M651 231 v-4 M651 40.2 v4 M698.33 231 v-4 M698.33 40.2 v4 M745.67 231 v-4 M745.67 40.2 v4 M793 231 v-4 M793 40.2 v4 M580 40.5 h2.5 M793 40.5 h-2.5 M580 46.25 h2.5 M793 46.25 h-2.5 M580 52 h2.5 M793 52 h-2.5 M580 57.75 h2.5 M793 57.75 h-2.5 M580 63.5 h2.5 M793 63.5 h-2.5 M580 69.25 h2.5 M793 69.25 h-2.5 M580 75 h2.5 M793 75 h-2.5 M580 80.75 h2.5 M793 80.75 h-2.5 M580 86.5 h2.5 M793 86.5 h-2.5 M580 92.25 h2.5 M793 92.25 h-2.5 M580 98 h2.5 M793 98 h-2.5 M580 103.75 h2.5 M793 103.75 h-2.5 M580 109.5 h2.5 M793 109.5 h-2.5 M580 115.25 h2.5 M793 115.25 h-2.5 M580 121 h2.5 M793 121 h-2.5 M580 126.75 h2.5 M793 126.75 h-2.5 M580 132.5 h2.5 M793 132.5 h-2.5 M580 138.25 h2.5 M793 138.25 h-2.5 M580 144 h2.5 M793 144 h-2.5 M580 149.75 h2.5 M793 149.75 h-2.5 M580 155.5 h2.5 M793 155.5 h-2.5 M580 161.25 h2.5 M793 161.25 h-2.5 M580 167 h2.5 M793 167 h-2.5 M580 172.75 h2.5 M793 172.75 h-2.5 M580 178.5 h2.5 M793 178.5 h-2.5 M580 184.25 h2.5 M793 184.25 h-2.5 M580 190 h2.5 M793 190 h-2.5 M580 195.75 h2.5 M793 195.75 h-2.5 M580 201.5 h2.5 M793 201.5 h-2.5 M580 207.25 h2.5 M793 207.25 h-2.5 M580 213 h2.5 M793 213 h-2.5 M580 218.75 h2.5 M793 218.75 h-2.5 M580 224.5 h2.5 M793 224.5 h-2.5 M580 230.25 h2.5 M793 230.25 h-2.5 M580 52 h4 M793 52 h-4 M580 80.75 h4 M793 80.75 h-4 M580 109.5 h4 M793 109.5 h-4 M580 138.25 h4 M793 138.25 h-4 M580 167 h4 M793 167 h-4 M580 195.75 h4 M793 195.75 h-4 M580 224.5 h4 M793 224.5 h-4" stroke="#000" stroke-width="1.05" fill="none"/>
<rect x="580" y="40.2" width="213" height="190.8" fill="none" stroke="#000" stroke-width="1.3"/>
<text transform="translate(603.67 249.6) scale(1.08 1)" text-anchor="middle" font-size="12.8" font-weight="normal" stroke="#000" stroke-width="0.35" class="sn">4.64</text>
<text transform="translate(651 249.6) scale(1.08 1)" text-anchor="middle" font-size="12.8" font-weight="normal" stroke="#000" stroke-width="0.35" class="sn">4.66</text>
<text transform="translate(698.33 249.6) scale(1.08 1)" text-anchor="middle" font-size="12.8" font-weight="normal" stroke="#000" stroke-width="0.35" class="sn">4.68</text>
<text transform="translate(745.67 249.6) scale(1.08 1)" text-anchor="middle" font-size="12.8" font-weight="normal" stroke="#000" stroke-width="0.35" class="sn">4.70</text>
<text transform="translate(575.5 56.5) scale(1.08 1)" text-anchor="end" font-size="12.8" font-weight="normal" stroke="#000" stroke-width="0.35" class="sn">0.0</text>
<text transform="translate(575.5 85.55) scale(1.08 1)" text-anchor="end" font-size="12.8" font-weight="normal" stroke="#000" stroke-width="0.35" class="sn">0.5</text>
<text transform="translate(575.5 114.6) scale(1.08 1)" text-anchor="end" font-size="12.8" font-weight="normal" stroke="#000" stroke-width="0.35" class="sn">1.0</text>
<text transform="translate(575.5 143.65) scale(1.08 1)" text-anchor="end" font-size="12.8" font-weight="normal" stroke="#000" stroke-width="0.35" class="sn">1.5</text>
<text transform="translate(575.5 172.7) scale(1.08 1)" text-anchor="end" font-size="12.8" font-weight="normal" stroke="#000" stroke-width="0.35" class="sn">2.0</text>
<text transform="translate(575.5 201.75) scale(1.08 1)" text-anchor="end" font-size="12.8" font-weight="normal" stroke="#000" stroke-width="0.35" class="sn">2.5</text>
<text transform="translate(575.5 230.8) scale(1.08 1)" text-anchor="end" font-size="12.8" font-weight="normal" stroke="#000" stroke-width="0.35" class="sn">3.0</text>
</svg>
</body></html>
